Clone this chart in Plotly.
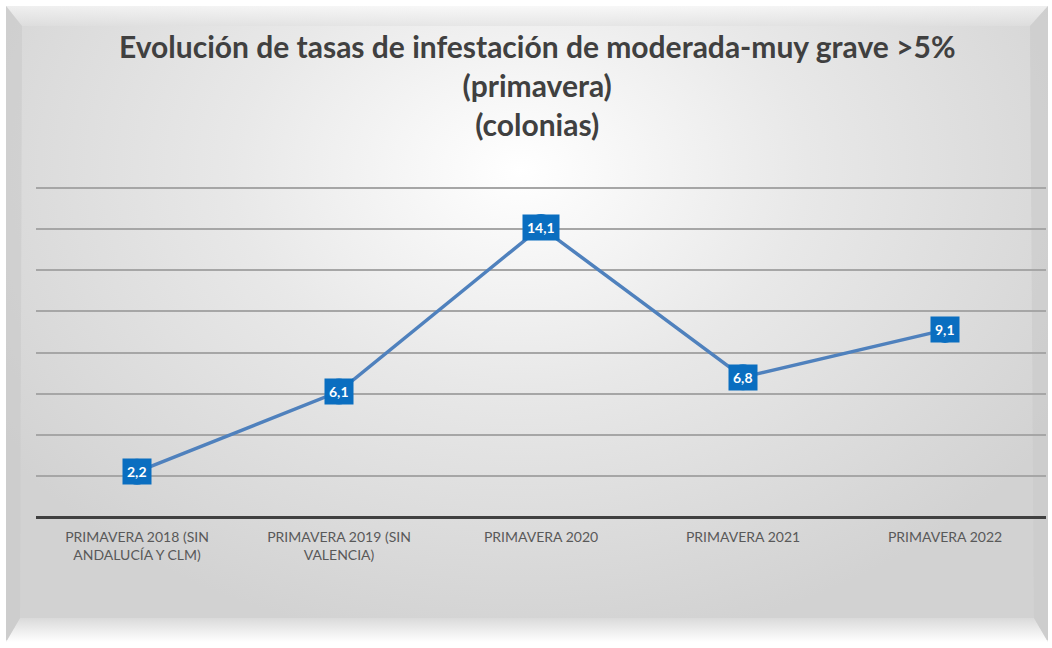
import base64
import plotly.graph_objects as go

categories = [
    "PRIMAVERA 2018 (SIN<br>ANDALUCÍA Y CLM)",
    "PRIMAVERA 2019 (SIN<br>VALENCIA)",
    "PRIMAVERA 2020",
    "PRIMAVERA 2021",
    "PRIMAVERA 2022",
]
values = [2.2, 6.1, 14.1, 6.8, 9.1]
value_labels = ["2,2", "6,1", "14,1", "6,8", "9,1"]
title_text = ("Evolución de tasas de infestación de moderada-muy grave >5%"
              "<br>(primavera)<br>(colonias)")

W, H = 1052, 648

svg = f'''<svg xmlns="http://www.w3.org/2000/svg" width="{W}" height="{H}" viewBox="0 0 {W} {H}">
<defs>
<radialGradient id="g" cx="520" cy="170" r="640" gradientUnits="userSpaceOnUse" gradientTransform="translate(520 170) scale(1 0.75) translate(-520 -170)">
<stop offset="0" stop-color="#ffffff"/>
<stop offset="0.45" stop-color="#e8e8e8"/>
<stop offset="1" stop-color="#d2d2d2"/>
</radialGradient>
<linearGradient id="b" x1="0" y1="0" x2="0" y2="1">
<stop offset="0" stop-color="#dadada"/>
<stop offset="1" stop-color="#ffffff"/>
</linearGradient>
<linearGradient id="t" x1="0" y1="0" x2="0" y2="1">
<stop offset="0" stop-color="#ffffff"/>
<stop offset="1" stop-color="#e0e0e0"/>
</linearGradient>
</defs>
<rect x="0" y="0" width="{W}" height="{H}" fill="#ffffff"/>
<rect x="6" y="6" width="1042" height="634" fill="url(#g)"/>
<polygon points="6,6 1048,6 1030,26 22,26" fill="url(#t)" opacity="0.6"/>
<polygon points="6,642 1048,642 1034,618 20,618" fill="url(#b)"/>
<polygon points="6,6 22,26 20,618 6,642" fill="#c8c8c8" opacity="0.55"/>
<polygon points="1048,6 1030,26 1034,618 1048,642" fill="#c8c8c8" opacity="0.55"/>
</svg>'''
src = "data:image/svg+xml;base64," + base64.b64encode(svg.encode()).decode()

fig = go.Figure()
fig.add_trace(go.Scatter(
    x=categories, y=values, mode="lines+markers",
    line=dict(color="#4F81BD", width=3.5),
    marker=dict(size=26, color="#0A6EC0", symbol="circle"),
    hoverinfo="skip", showlegend=False,
))

for c, v, lab in zip(categories, values, value_labels):
    fig.add_annotation(
        x=c, y=v, text=f"<b>{lab}</b>", showarrow=False,
        font=dict(family="Lato, Calibri, sans-serif", size=14, color="white"),
        bgcolor="#0A6EC0", borderpad=4,
    )

fig.add_annotation(
    text=f"<b>{title_text}</b>", xref="paper", yref="paper",
    x=0.51, xanchor="center", y=1 - 85 / H, yanchor="middle",
    showarrow=False, align="center",
    font=dict(family="Lato, Calibri, sans-serif", size=30, color="#404040"),
)

fig.update_layout(
    width=W, height=H,
    margin=dict(l=0, r=0, t=0, b=0),
    paper_bgcolor="white",
    plot_bgcolor="rgba(0,0,0,0)",
    images=[dict(source=src, xref="paper", yref="paper", x=0, y=1,
                 sizex=1, sizey=1, sizing="stretch", layer="below")],
    xaxis=dict(
        domain=[36 / W, 1046 / W], range=[-0.5, 4.5],
        showgrid=False, zeroline=False, showline=False,
        ticks="", ticklabelstandoff=10,
        tickfont=dict(family="Lato, Calibri, sans-serif", size=14, color="#595959"),
    ),
    yaxis=dict(
        domain=[1 - 517 / H, 1 - 186 / H], range=[0, 16.1], dtick=2,
        showgrid=True, gridcolor="#a6a6a6", gridwidth=1.5,
        zeroline=True, zerolinecolor="#404040", zerolinewidth=3,
        showticklabels=False, ticks="",
    ),
)

fig.write_html("out.html", config={"displayModeBar": False},
               post_script="document.body.style.margin='0px';")
